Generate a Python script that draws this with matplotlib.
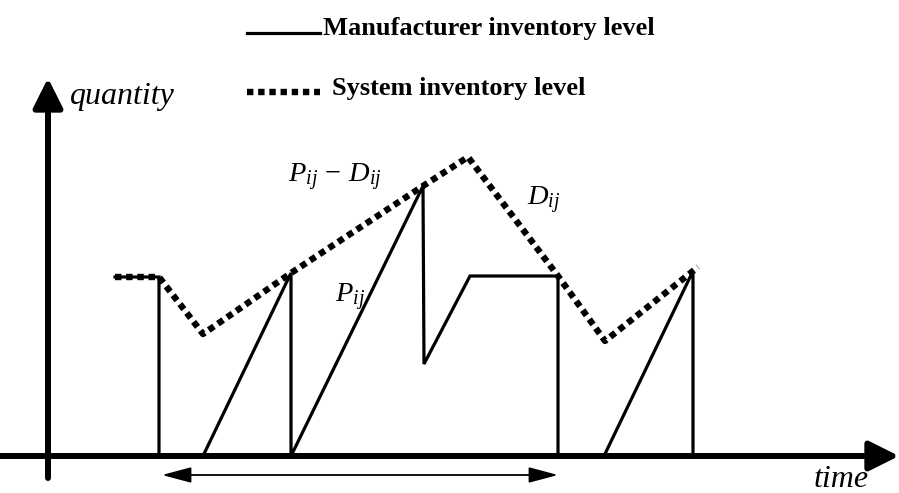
import matplotlib
matplotlib.use("Agg")
import matplotlib.pyplot as plt

plt.rcParams['font.family'] = ['Liberation Serif', 'DejaVu Serif']
plt.rcParams['mathtext.fontset'] = 'custom'
plt.rcParams['mathtext.rm'] = 'Liberation Serif'
plt.rcParams['mathtext.it'] = 'Liberation Serif:italic'

# Manufacturer inventory level (time, quantity)
manuf_t = [67, 111, 111, 155, 243, 243, 375, 376, 422, 510, 510, 556, 645, 645]
manuf_q = [179, 179, 0, 0, 183, 0, 270, 92, 180, 180, 0, 0, 185, 0]

# System inventory level
system_t = [67, 111, 155, 243, 375, 420, 510, 557, 650]
system_q = [179, 179, 122, 183, 270, 299, 180, 115, 189]

dotted = (0, (1, 0.75))

fig = plt.figure(figsize=(8.99, 4.93), dpi=100)
ax = fig.add_axes([0, 0, 1, 1])
ax.set_xlim(-48, 851)
ax.set_ylim(-37, 456)
ax.axis('off')

# axes arrows
arrow_kw = dict(arrowstyle='-|>,head_length=0.9,head_width=0.45', lw=4.3,
                color='black', shrinkA=0, shrinkB=0, mutation_scale=20)
ax.annotate('', xy=(851, 0), xytext=(-48, 0), arrowprops=arrow_kw)
ax.annotate('', xy=(0, 378), xytext=(0, -22), arrowprops=arrow_kw)

# cycle length arrow
ax.annotate('', xy=(510, -19), xytext=(114, -19),
            arrowprops=dict(arrowstyle='<|-|>,head_length=1.5,head_width=0.4',
                            lw=1.3, color='black', shrinkA=0, shrinkB=0,
                            mutation_scale=12))

ax.plot(manuf_t, manuf_q, color='black', lw=2.3, solid_joinstyle='miter')
ax.plot(system_t, system_q, color='black', lw=4.6, linestyle=dotted,
        dash_capstyle='butt')

# legend
ax.plot([199, 272], [423, 423], color='black', lw=2.3)
ax.plot([199, 272], [364, 364], color='black', lw=4.6, linestyle=dotted,
        dash_capstyle='butt')
ax.text(275, 421, 'Manufacturer inventory level', fontsize=19, fontweight='bold',
        va='baseline', ha='left')
ax.text(284, 361, 'System inventory level', fontsize=19, fontweight='bold',
        va='baseline', ha='left')

# labels
ax.text(22, 352, 'quantity', fontsize=23, style='italic', va='baseline')
ax.text(766, -31, 'time', fontsize=23, style='italic', va='baseline')
ax.text(240, 274, r'$P_{ij}\,-\,D_{ij}$', fontsize=20.5, va='baseline')
ax.text(479, 251, r'$D_{ij}$', fontsize=20.5, va='baseline')
ax.text(287, 154, r'$P_{ij}$', fontsize=20.5, va='baseline')

fig.savefig('out.png', dpi=100)
